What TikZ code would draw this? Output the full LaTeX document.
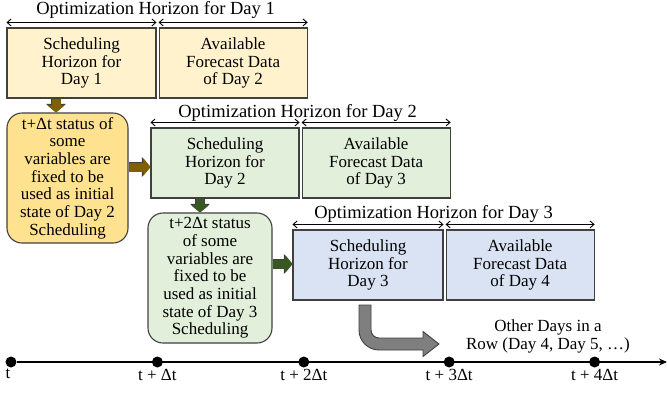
\documentclass[tikz,border=0pt]{standalone}
\usepackage{fontspec}
\setmainfont{Liberation Serif}
\usepackage{tikz}
\usetikzlibrary{positioning,calc,arrows.meta}

\definecolor{dayone}{HTML}{FFF2CC}
\definecolor{fixone}{HTML}{FFE28F}
\definecolor{daytwo}{HTML}{E2EFDA}
\definecolor{daythree}{HTML}{DAE3F3}
\definecolor{boxline}{HTML}{404040}
\definecolor{brownarr}{HTML}{7F6000}
\definecolor{greenarr}{HTML}{385723}
\definecolor{grayarr}{HTML}{7F7F7F}

\begin{document}
\begin{tikzpicture}[x=1pt,y=1pt,
	hbox/.style={draw=boxline,line width=1.1pt,minimum height=70pt,minimum width=148pt,inner sep=0pt,align=center,font=\rmfamily\fontsize{17}{17.7}\selectfont},
	fixbox/.style={hbox,rounded corners=15pt,minimum height=130pt},
	title/.style={inner sep=0pt,anchor=base,font=\rmfamily\fontsize{18.5}{20}\selectfont},
	horarrow/.style={<->,>={Straight Barb[length=4pt,width=7pt]},line width=0.9pt},
	fatarrow/.style={line width=9pt,-{Triangle[length=7pt,width=17pt]},
		preaction={draw=black!75,line width=10.6pt,-{Triangle[length=8.6pt,width=19.5pt]}}},
	dot/.style={circle,fill=black,inner sep=0pt,minimum size=11pt},
	tick/.style={below=1pt of #1,inner sep=0pt,font=\rmfamily\fontsize{17}{17.7}\selectfont}]
	\useasboundingbox (0,0) rectangle (667,-392);
	
	% day 1
	\node[hbox,fill=dayone,minimum width=149pt] (s1) at (81.5,-63) {Scheduling\\Horizon for\\Day 1};
	\node[hbox,fill=dayone,right=2pt of s1] (f1) {Available\\Forecast Data\\of Day 2};
	\draw[horarrow] ([yshift=5pt]s1.north west) -- ([yshift=5pt]s1.north east);
	\draw[horarrow] ([yshift=5pt]f1.north west) -- ([yshift=5pt]f1.north east);
	\node[title] (o1) at ([xshift=-1pt,yshift=13pt]s1.north east) {Optimization Horizon for Day 1};
	\node[fixbox,fill=fixone,minimum width=121pt] (r1) at (67.5,-178) {t+Δt status of\\some\\variables are\\fixed to be\\used as initial\\state of Day 2\\Scheduling};
	
	% day 2
	\node[hbox,fill=daytwo] (s2) at (225,-163) {Scheduling\\Horizon for\\Day 2};
	\node[hbox,fill=daytwo,right=2pt of s2] (f2) {Available\\Forecast Data\\of Day 3};
	\draw[horarrow] ([yshift=5pt]s2.north west) -- ([yshift=5pt]s2.north east);
	\draw[horarrow] ([yshift=5pt]f2.north west) -- ([yshift=5pt]f2.north east);
	\node[title] (o2) at ([xshift=-2pt,yshift=10pt]s2.north east) {Optimization Horizon for Day 2};
	\node[fixbox,fill=daytwo,minimum width=124pt] (r2) at (210,-278) {t+2Δt status\\of some\\variables are\\fixed to be\\used as initial\\state of Day 3\\Scheduling};
	
	% day 3
	\node[hbox,fill=daythree,minimum width=150pt] (s3) at (368,-265) {Scheduling\\Horizon for\\Day 3};
	\node[hbox,fill=daythree,right=2pt of s3] (f3) {Available\\Forecast Data\\of Day 4};
	\draw[horarrow] ([yshift=5pt]s3.north west) -- ([yshift=5pt]s3.north east);
	\draw[horarrow] ([yshift=5pt]f3.north west) -- ([yshift=5pt]f3.north east);
	\node[title] (o3) at ([xshift=-10pt,yshift=11pt]s3.north east) {Optimization Horizon for Day 3};
	
	% passing the fixed states on
	\draw[fatarrow,brownarr] ([xshift=-25.5pt]s1.south) -- ([xshift=-25.5pt]s1.south |- r1.north);
	\draw[fatarrow,brownarr] ([yshift=11pt]r1.east) -- ([yshift=11pt]r1.east -| s2.west);
	\draw[fatarrow,greenarr] ([xshift=-25pt]s2.south) -- ([xshift=-25pt]s2.south |- r2.north);
	\draw[fatarrow,greenarr] ([yshift=14pt]r2.east) -- ([yshift=14pt]r2.east -| s3.west);
	
	% the other days
	\filldraw[fill=grayarr,draw=boxline,line width=0.9pt] (359,-305) -- (359,-330) arc[start angle=180,end angle=270,radius=20] -- (423,-350) -- (423,-356.5) -- (439,-344) -- (423,-331.5) -- (423,-338) -- (379,-338) arc[start angle=270,end angle=180,radius=8] -- (371,-305) -- cycle;
	\node[font=\rmfamily\fontsize{17}{18}\selectfont,align=center,inner sep=0pt] (other) at (548,-336) {Other Days in a\\Row (Day 4, Day 5, …)};
	
	% time line
	\node[dot] (d0) at (11,-362) {};
	\node[dot,right=135pt of d0] (d1) {};
	\node[dot,right=135pt of d1] (d2) {};
	\node[dot,right=134pt of d2] (d3) {};
	\node[dot,right=134pt of d3] (d4) {};
	\coordinate (tend) at (667,-362);
	\draw[line width=1.4pt,-{Stealth[length=8pt,width=7pt]}] (d0) -- (tend);
	\node[tick=d0,xshift=-3pt] (l0) {t};
	\node[tick=d1] (l1) {t + Δt};
	\node[tick=d2] (l2) {t + 2Δt};
	\node[tick=d3] (l3) {t + 3Δt};
	\node[tick=d4] (l4) {t + 4Δt};
\end{tikzpicture}
\end{document}
